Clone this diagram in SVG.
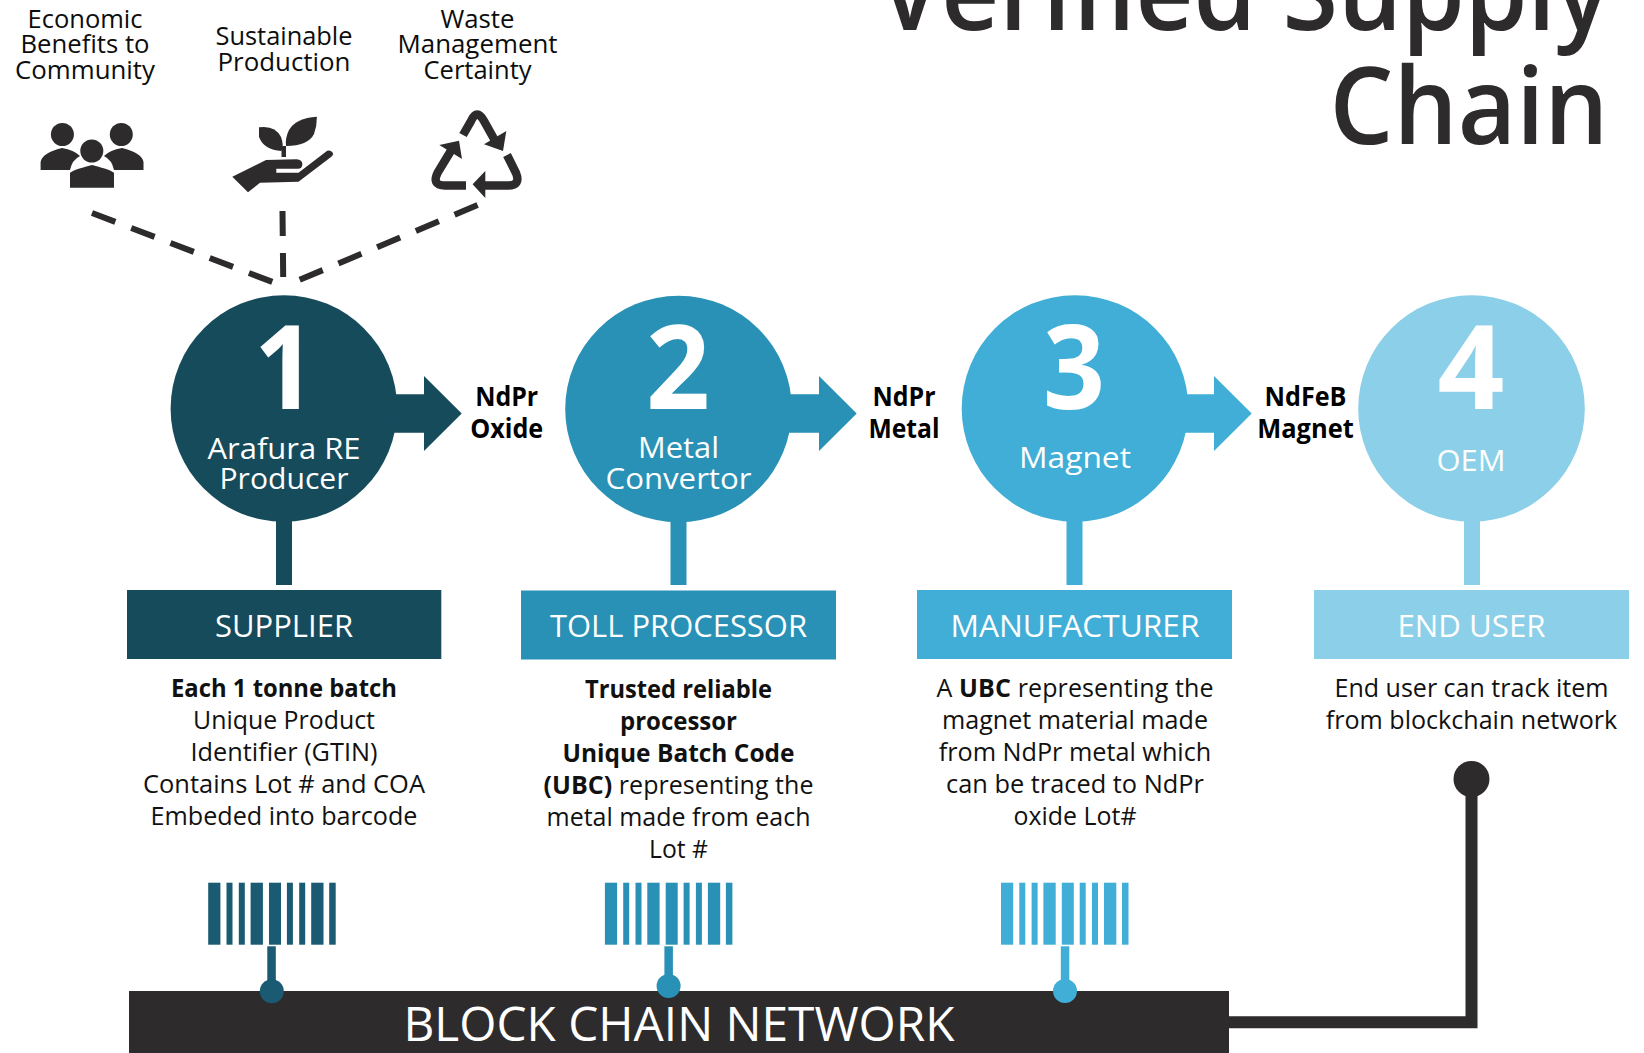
<svg xmlns="http://www.w3.org/2000/svg" xmlns:xlink="http://www.w3.org/1999/xlink" width="1644" height="1053" viewBox="0 0 1644 1053">
<style>
text{font-family:"Open Sans","Noto Sans","Liberation Sans",sans-serif;text-anchor:middle}
.w{fill:#fff}.d{fill:#2d2b2c}
.top{font-size:25px;fill:#0d0d0d;font-weight:500}
.body{font-size:25px;fill:#111}
.b{font-weight:700}
.arr{font-size:26px;font-weight:700;fill:#000}
.num{font-size:117px;font-weight:700;fill:#fff}
.cap{font-size:30px;fill:#fff;font-weight:500}
.hdr{font-size:31px;fill:#fff;font-weight:500}
.c1{fill:#164b5c}.c2{fill:#2891b5}.c3{fill:#40aed6}.c4{fill:#8bcfe8}
.b1{fill:#1a5a72}
.dash{fill:none;stroke:#2d2b2c;stroke-width:6;stroke-dasharray:25 17}
.rec{fill:none;stroke:#2d2b2c;stroke-width:8.5}
</style>
<defs>
<g id="bars">
<rect x="0" y="0" width="12.2" height="62"/><rect x="18.3" y="0" width="6" height="62"/><rect x="30.6" y="0" width="6" height="62"/><rect x="42.4" y="0" width="12.3" height="62"/><rect x="60.8" y="0" width="12" height="62"/><rect x="78.7" y="0" width="6" height="62"/><rect x="91" y="0" width="6" height="62"/><rect x="103" y="0" width="12.3" height="62"/><rect x="121" y="0" width="6.5" height="62"/>
</g>
</defs>

<g id="title">
<text x="1244" y="30" font-size="107" font-weight="600" class="d" textLength="731" lengthAdjust="spacingAndGlyphs">Verified Supply</text>
<text x="1469" y="144" font-size="107" font-weight="600" class="d" textLength="279" lengthAdjust="spacingAndGlyphs">Chain</text>
</g>

<g id="benefit-community">
<text class="top" x="85" y="28" textLength="115" lengthAdjust="spacingAndGlyphs">Economic</text>
<text class="top" x="85" y="53" textLength="129" lengthAdjust="spacingAndGlyphs">Benefits to</text>
<text class="top" x="85" y="79" textLength="140" lengthAdjust="spacingAndGlyphs">Community</text>
<g class="d">
<ellipse cx="62.4" cy="134.5" rx="11.5" ry="11.5"/><ellipse cx="121.3" cy="134.5" rx="11.5" ry="11.5"/>
<path d="M40.6 170V162Q42 153 62 148Q74 150 80 156Q72 160 70 170Z"/>
<path d="M143.5 170V162Q142 153 122 148Q110 150 104 156Q112 160 114 170Z"/>
<ellipse cx="91.8" cy="151" rx="11.5" ry="11.5"/>
<path d="M70 187.7V173Q72 170 92 165Q112 170 114 173V187.7Z"/>
</g>
</g>

<g id="benefit-production">
<text class="top" x="284" y="45" textLength="137" lengthAdjust="spacingAndGlyphs">Sustainable</text>
<text class="top" x="284" y="70.5" textLength="133" lengthAdjust="spacingAndGlyphs">Production</text>
<g class="d">
<path d="M232.3 176.7L266 160L296.6 159.3Q303 160 302.3 165Q302 168.7 298 168.7H276.3V172.7H298.5L327.2 150.7Q331 149.5 333 153Q333.5 155 331 157L298.5 181.7L260 182.7L248 192.3Z"/>
<path d="M259 127.3Q275 125 281 137Q284 145 281.5 151Q264 150 259 137Z"/>
<path d="M316.9 116.7Q296 118 289 130Q285 138 286 146Q308 146 314 134Q317 126 316.9 116.7Z"/>
<rect x="281.5" y="146" width="4.5" height="11"/>
</g>
</g>

<g id="benefit-waste">
<text class="top" x="477.5" y="28" textLength="74" lengthAdjust="spacingAndGlyphs">Waste</text>
<text class="top" x="477.5" y="53" textLength="160" lengthAdjust="spacingAndGlyphs">Management</text>
<text class="top" x="477.5" y="79" textLength="108" lengthAdjust="spacingAndGlyphs">Certainty</text>
<path class="rec" d="M463 135L471 121Q477 108 484 121L498 146"/>
<path class="d" d="M506.3 131L503 151L484 144.3Z"/>
<path class="rec" d="M466 185.5H445Q431 185.5 438 172L452 149"/>
<path class="d" d="M439.3 145L459 140.7L462 159Z"/>
<path class="rec" d="M507 155L516 173Q521 185.5 508 185.5H480"/>
<path class="d" d="M485.3 171L472.6 184.3L485.3 198Z"/>
</g>

<g id="connectors">
<path class="dash" d="M92 213L272.5 282"/>
<path class="dash" d="M282.5 211L283.2 277"/>
<path class="dash" d="M477.6 205L299.3 280"/>
<path class="c1" d="M390 394.3H424V376L461.7 413.5L424 451V432.7H390Z"/>
<path class="c2" d="M785 394.3H819V376L856.7 413.5L819 451V432.7H785Z"/>
<path class="c3" d="M1180 394.3H1214V376L1251.7 413.5L1214 451V432.7H1180Z"/>
<rect class="c1" x="276" y="520" width="16" height="65"/>
<rect class="c2" x="670.5" y="520" width="16" height="65"/>
<rect class="c3" x="1066.5" y="520" width="16" height="65"/>
<rect class="c4" x="1464" y="520" width="16" height="65"/>
<path d="M1229 1022.3H1471.5V779" fill="none" stroke="#2d2b2c" stroke-width="12"/>
</g>

<g id="node-1">
<circle class="c1" cx="283.9" cy="408.5" r="113.3"/>
<text class="num" x="285" y="408.7" textLength="62" lengthAdjust="spacingAndGlyphs">1</text>
<text class="cap" x="284" y="459" textLength="153" lengthAdjust="spacingAndGlyphs">Arafura RE</text>
<text class="cap" x="284" y="489" textLength="129" lengthAdjust="spacingAndGlyphs">Producer</text>
<rect class="c1" x="127" y="590" width="314.3" height="69"/>
<text class="hdr" x="284" y="637" textLength="138" lengthAdjust="spacingAndGlyphs">SUPPLIER</text>
<text class="body b" x="284" y="697" textLength="226" lengthAdjust="spacingAndGlyphs">Each 1 tonne batch</text>
<text class="body" x="284" y="729" textLength="182" lengthAdjust="spacingAndGlyphs">Unique Product</text>
<text class="body" x="284" y="761" textLength="187" lengthAdjust="spacingAndGlyphs">Identifier (GTIN)</text>
<text class="body" x="284" y="793" textLength="282" lengthAdjust="spacingAndGlyphs">Contains Lot # and COA</text>
<text class="body" x="284" y="825" textLength="267" lengthAdjust="spacingAndGlyphs">Embeded into barcode</text>
<use href="#bars" x="208.2" y="882.7" class="b1"/>
</g>

<g id="node-2">
<circle class="c2" cx="678.5" cy="409" r="113.3"/>
<text class="num" x="678" y="408.7" textLength="64" lengthAdjust="spacingAndGlyphs">2</text>
<text class="cap" x="678.5" y="458" textLength="81" lengthAdjust="spacingAndGlyphs">Metal</text>
<text class="cap" x="678.5" y="489" textLength="146" lengthAdjust="spacingAndGlyphs">Convertor</text>
<rect class="c2" x="521" y="590.5" width="315" height="69"/>
<text class="hdr" x="678.5" y="637" textLength="257" lengthAdjust="spacingAndGlyphs">TOLL PROCESSOR</text>
<text class="body b" x="678.5" y="698" textLength="187" lengthAdjust="spacingAndGlyphs">Trusted reliable</text>
<text class="body b" x="678.5" y="730" textLength="117" lengthAdjust="spacingAndGlyphs">processor</text>
<text class="body b" x="678.5" y="762" textLength="232" lengthAdjust="spacingAndGlyphs">Unique Batch Code</text>
<text class="body" x="678.5" y="794" textLength="270" lengthAdjust="spacing"><tspan font-weight="700">(UBC)</tspan> representing the</text>
<text class="body" x="678.5" y="826" textLength="264" lengthAdjust="spacingAndGlyphs">metal made from each</text>
<text class="body" x="678.5" y="858" textLength="59" lengthAdjust="spacingAndGlyphs">Lot #</text>
<use href="#bars" x="604.9" y="882.7" class="c2"/>
</g>

<g id="node-3">
<circle class="c3" cx="1075" cy="408.5" r="113.3"/>
<text class="num" x="1074" y="408.7" textLength="62" lengthAdjust="spacingAndGlyphs">3</text>
<text class="cap" x="1075" y="468" textLength="112" lengthAdjust="spacingAndGlyphs">Magnet</text>
<rect class="c3" x="917" y="590" width="315" height="69"/>
<text class="hdr" x="1075" y="637" textLength="249" lengthAdjust="spacingAndGlyphs">MANUFACTURER</text>
<text class="body" x="1075" y="697" textLength="277" lengthAdjust="spacing">A <tspan font-weight="700">UBC</tspan> representing the</text>
<text class="body" x="1075" y="729" textLength="266" lengthAdjust="spacingAndGlyphs">magnet material made</text>
<text class="body" x="1075" y="761" textLength="272.6" lengthAdjust="spacingAndGlyphs">from NdPr metal which</text>
<text class="body" x="1075" y="793" textLength="258" lengthAdjust="spacingAndGlyphs">can be traced to NdPr</text>
<text class="body" x="1075" y="825" textLength="123" lengthAdjust="spacingAndGlyphs">oxide Lot#</text>
<use href="#bars" x="1001" y="882.7" class="c3"/>
</g>

<g id="node-4">
<circle class="c4" cx="1471.5" cy="408.5" r="113.3"/>
<text class="num" x="1471" y="408.7">4</text>
<text class="cap" x="1471" y="471" textLength="69" lengthAdjust="spacingAndGlyphs">OEM</text>
<rect class="c4" x="1314" y="590" width="315" height="69"/>
<text class="hdr" x="1471.5" y="637" textLength="148" lengthAdjust="spacingAndGlyphs">END USER</text>
<text class="body" x="1471.5" y="697" textLength="274" lengthAdjust="spacingAndGlyphs">End user can track item</text>
<text class="body" x="1471.5" y="729" textLength="291.5" lengthAdjust="spacingAndGlyphs">from blockchain network</text>
</g>

<g id="label-oxide">
<text class="arr" x="506.7" y="406" textLength="63" lengthAdjust="spacingAndGlyphs">NdPr</text>
<text class="arr" x="506.7" y="438" textLength="73" lengthAdjust="spacingAndGlyphs">Oxide</text>
</g>
<g id="label-metal">
<text class="arr" x="904" y="406" textLength="63" lengthAdjust="spacingAndGlyphs">NdPr</text>
<text class="arr" x="904" y="438" textLength="71" lengthAdjust="spacingAndGlyphs">Metal</text>
</g>
<g id="label-magnet">
<text class="arr" x="1305.5" y="406" textLength="82" lengthAdjust="spacingAndGlyphs">NdFeB</text>
<text class="arr" x="1305.5" y="438" textLength="96.5" lengthAdjust="spacingAndGlyphs">Magnet</text>
</g>

<g id="blockchain">
<rect class="d" x="129" y="991" width="1100" height="62"/>
<text x="679" y="1040.7" font-size="47" font-weight="500" class="w" textLength="551" lengthAdjust="spacingAndGlyphs">BLOCK CHAIN NETWORK</text>
<rect class="b1" x="267.3" y="946.3" width="8.5" height="36"/><circle class="b1" cx="271.8" cy="991.3" r="12"/>
<rect class="c2" x="664.4" y="946.3" width="8.5" height="32"/><circle class="c2" cx="668.6" cy="986" r="12"/>
<rect class="c3" x="1060.8" y="946.3" width="8.5" height="36"/><circle class="c3" cx="1065" cy="991" r="12"/>
<circle class="d" cx="1471.5" cy="779" r="18"/>
</g>
</svg>
